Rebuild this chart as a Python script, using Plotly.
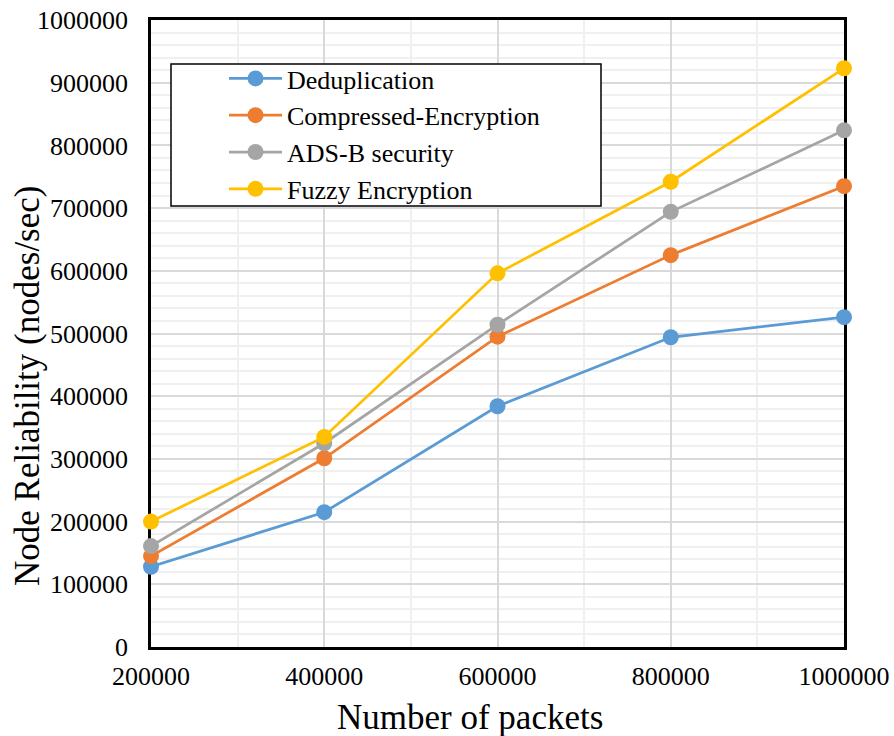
import plotly.graph_objects as go

packets = [200000, 400000, 600000, 800000, 1000000]
deduplication = [128000, 215000, 384000, 494000, 526000]
compressed_encryption = [145000, 301000, 495000, 625000, 735000]
adsb_security = [161000, 325000, 514000, 694000, 824000]
fuzzy_encryption = [200000, 335000, 596000, 742000, 923000]

y_ticks = list(range(0, 1000001, 100000))

series = [
    ("Deduplication", deduplication, "#5B9BD5"),
    ("Compressed-Encryption", compressed_encryption, "#ED7D31"),
    ("ADS-B security", adsb_security, "#A5A5A5"),
    ("Fuzzy Encryption", fuzzy_encryption, "#FFC000"),
]

fig = go.Figure()
for name, vals, color in series:
    fig.add_trace(go.Scatter(
        x=packets, y=vals, name=name, mode="lines+markers",
        line=dict(color=color, width=2.75),
        marker=dict(color=color, size=16),
        cliponaxis=False,
    ))

font_family = "Liberation Serif, Times New Roman, serif"

# plot area in pixels: x 151..844, y 20..647
L, R, T, B = 151, 844, 20, 647
W, H = R - L, B - T


def px_x(x):
    return (x - L) / W


def px_y(y):
    return (B - y) / H


fig.update_layout(
    width=894, height=736,
    margin=dict(l=L, r=894 - R, t=T, b=736 - B, autoexpand=False),
    paper_bgcolor="white", plot_bgcolor="white",
    font=dict(family=font_family, size=26, color="black"),
    showlegend=True,
    legend=dict(
        x=px_x(224), y=px_y(55), xanchor="left", yanchor="top",
        borderwidth=0, bgcolor="rgba(0,0,0,0)",
        font=dict(family=font_family, size=26),
        itemwidth=53, tracegroupgap=0,
    ),
    shapes=[dict(
        type="rect", xref="paper", yref="paper",
        x0=px_x(171), x1=px_x(601), y0=px_y(206), y1=px_y(64),
        line=dict(color="black", width=1.5), fillcolor="white", layer="above",
    )],
    annotations=[
        dict(text="Number of packets", xref="paper", yref="paper",
             x=px_x(469.5), y=px_y(717), xanchor="center", yanchor="middle",
             showarrow=False, font=dict(family=font_family, size=35)),
        dict(text="Node Reliability (nodes/sec)", xref="paper", yref="paper",
             x=px_x(28), y=px_y(386), xanchor="center", yanchor="middle",
             textangle=-90, showarrow=False, font=dict(family=font_family, size=35)),
    ],
    xaxis=dict(
        range=[200000, 1000000], automargin=False,
        tickvals=packets, ticktext=[str(v) for v in packets],
        showgrid=True, gridcolor="#D9D9D9", gridwidth=2,
        minor=dict(dtick=100000, tick0=200000, showgrid=True, gridcolor="#F0F0F0", gridwidth=2),
        showline=True, linecolor="black", linewidth=2.5, mirror=True,
        ticks="", zeroline=False, ticklabelstandoff=4,
        layer="below traces",
        tickfont=dict(family=font_family, size=26),
    ),
    yaxis=dict(
        range=[0, 1000000], automargin=False,
        tickvals=y_ticks, ticktext=[str(v) for v in y_ticks],
        showgrid=True, gridcolor="#D9D9D9", gridwidth=2,
        minor=dict(dtick=20000, tick0=0, showgrid=True, gridcolor="#F0F0F0", gridwidth=2),
        showline=True, linecolor="black", linewidth=2.5, mirror=True,
        ticks="", zeroline=False, ticklabelstandoff=15,
        layer="below traces",
        tickfont=dict(family=font_family, size=26),
    ),
)

fig.write_html("out.html")
